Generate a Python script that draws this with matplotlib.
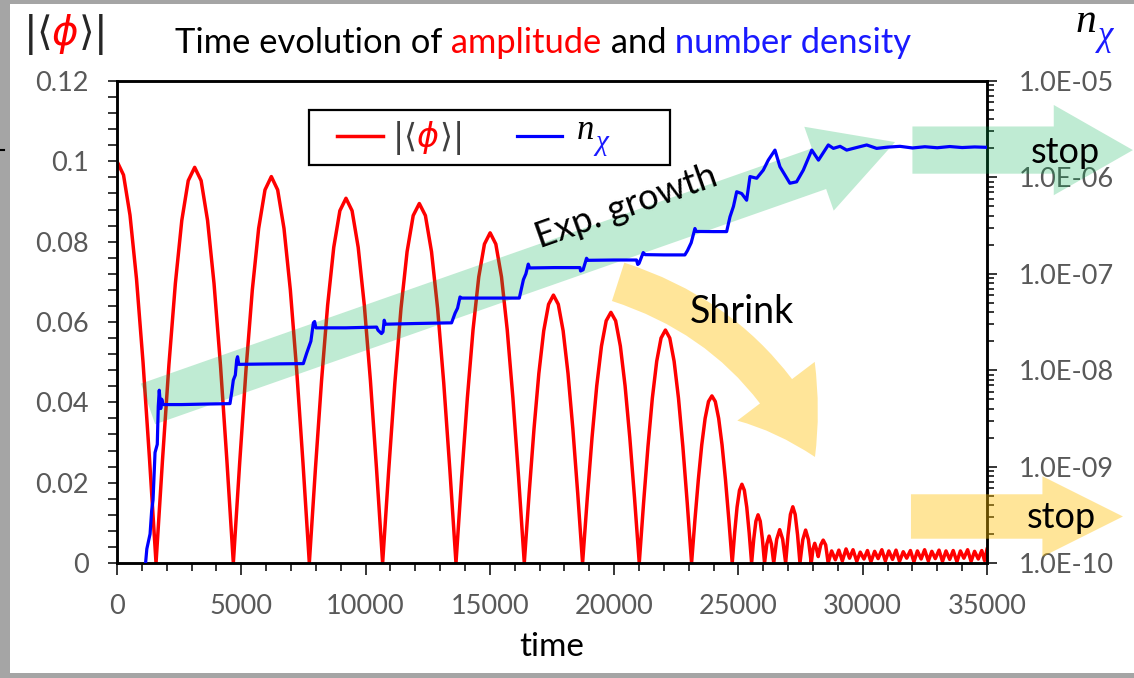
#time evolution of the condensate amplitude |<phi>| and the produced number density n_chi
#left axis: amplitude (linear), right axis: number density (log)

import numpy as np
import matplotlib.pyplot as plt
from matplotlib.patches import FancyArrowPatch, Rectangle
from matplotlib.lines import Line2D
from matplotlib.ticker import MultipleLocator, LogLocator, NullFormatter, FuncFormatter

W, H = 1134, 678
plt.rcParams['font.family'] = ['Lato', 'DejaVu Sans']

t_amp = [0, 262, 523, 785, 1047, 1308, 1570,
         1829, 2088, 2348, 2607, 2866, 3125, 3384, 3643, 3903, 4162, 4421, 4680,
         4935, 5190, 5444, 5699, 5954, 6209, 6463, 6718, 6973, 7227, 7482, 7737,
         7983, 8229, 8474, 8720, 8966, 9212, 9457, 9703, 9949, 10195, 10440, 10686,
         10932, 11178, 11424, 11670, 11916, 12162, 12407, 12653, 12899, 13145, 13391, 13637,
         13866, 14095, 14324, 14553, 14782, 15011, 15240, 15469, 15698, 15927, 16156, 16385,
         16580, 16776, 16971, 17167, 17362, 17558, 17753, 17948, 18144, 18339, 18535, 18730,
         18920, 19110, 19300, 19490, 19680, 19870, 20060, 20250, 20440, 20630, 20820, 21010,
         21185, 21361, 21536, 21712, 21887, 22063, 22238, 22413, 22589, 22764, 22940, 23115,
         23251, 23388, 23524, 23660, 23796, 23933, 24069, 24205, 24341, 24478, 24614, 24750,
         24848, 24945, 25043, 25140, 25238, 25335, 25433, 25530,
         25617, 25703, 25790, 25877, 25963, 26050,
         26142, 26235, 26328, 26420,
         26540, 26660, 26780, 26900,
         26996, 27092, 27188, 27283, 27379, 27475,
         27589, 27703, 27816, 27930,
         28000, 28070, 28140, 28210,
         28310, 28410, 28510, 28610,
         28750, 28900, 29040, 29180, 29330, 29470, 29610, 29760, 29900, 30050,
         30190, 30330, 30480, 30620, 30770, 30910, 31050, 31200, 31340, 31480,
         31630, 31770, 31920, 32060, 32200, 32350, 32490, 32640, 32780, 32920,
         33070, 33210, 33350, 33500, 33640, 33790, 33930, 34070, 34220, 34360,
         34500, 34650, 34790, 34900, 35000]
amp = [0.1, 0.0966, 0.0866, 0.0707, 0.0500, 0.0259, 0.0,
       0.0255, 0.0493, 0.0696, 0.0853, 0.0952, 0.0985, 0.0952, 0.0853, 0.0696, 0.0493, 0.0255, 0.0,
       0.0249, 0.0481, 0.0680, 0.0833, 0.0929, 0.0962, 0.0929, 0.0833, 0.0680, 0.0481, 0.0249, 0.0,
       0.0235, 0.0454, 0.0642, 0.0786, 0.0877, 0.0908, 0.0877, 0.0786, 0.0642, 0.0454, 0.0235, 0.0,
       0.0232, 0.0448, 0.0633, 0.0775, 0.0865, 0.0895, 0.0865, 0.0775, 0.0633, 0.0448, 0.0232, 0.0,
       0.0213, 0.0411, 0.0581, 0.0712, 0.0794, 0.0822, 0.0794, 0.0712, 0.0581, 0.0411, 0.0213, 0.0,
       0.0173, 0.0334, 0.0472, 0.0578, 0.0644, 0.0667, 0.0644, 0.0578, 0.0472, 0.0334, 0.0173, 0.0,
       0.0162, 0.0312, 0.0441, 0.0540, 0.0603, 0.0624, 0.0603, 0.0540, 0.0441, 0.0312, 0.0162, 0.0,
       0.0150, 0.0290, 0.0410, 0.0502, 0.0560, 0.0580, 0.0560, 0.0502, 0.0410, 0.0290, 0.0150, 0.0,
       0.0108, 0.0208, 0.0294, 0.0360, 0.0402, 0.0416, 0.0402, 0.0360, 0.0294, 0.0208, 0.0108, 0.0,
       0.0075, 0.0139, 0.0181, 0.0196, 0.0181, 0.0139, 0.0075, 0.0,
       0.0060, 0.0104, 0.0120, 0.0104, 0.0060, 0.0,
       0.0047, 0.0067, 0.0047, 0.0,
       0.0059, 0.0083, 0.0059, 0.0,
       0.0070, 0.0121, 0.0140, 0.0121, 0.0070, 0.0,
       0.0058, 0.0082, 0.0058, 0.0,
       0.0035, 0.0049, 0.0035, 0.0016,
       0.0045, 0.0057, 0.0045, 0.0,
       0.0030, 0.0008, 0.0032, 0.0005, 0.0035, 0.0012, 0.0033, 0.0004, 0.0027, 0.0010,
       0.0031, 0.0003, 0.0029, 0.0011, 0.0033, 0.0005, 0.0030, 0.0009, 0.0032, 0.0004,
       0.0028, 0.0012, 0.0031, 0.0003, 0.0030, 0.0010, 0.0033, 0.0005, 0.0029, 0.0011,
       0.0032, 0.0004, 0.0030, 0.0009, 0.0031, 0.0003, 0.0030, 0.0012, 0.0033, 0.0004,
       0.0029, 0.0010, 0.0031, 0.0006, 0.0034]

#number density n_chi (time, value)
t_n = [1150, 1200, 1330, 1395, 1450, 1490, 1530, 1620, 1660, 1700, 1760, 1800, 1850, 2600, 3500, 4545,
       4610, 4680, 4760, 4815, 4850, 4900, 6000, 7495,
       7630, 7800, 7900, 7950, 8000, 9200, 10445,
       10500, 10640, 10700, 10750, 10800, 12000, 13460,
       13600, 13700, 13800, 13850, 15000, 16185,
       16350, 16450, 16545, 16600, 17600, 18625,
       18650, 18750, 18890, 18950, 20000, 20900,
       20950, 21000, 21170, 21250, 22000, 22845,
       22950, 23100, 23250, 23300, 24000, 24525,
       24660, 24800, 24930, 25130, 25330, 25465, 25735, 26000, 26200, 26470,
       26670, 27070, 27340, 27610, 27950, 28220, 28615, 28820, 29090, 29355, 29620, 30160, 30560,
       31000, 31500, 32000, 32500, 33000, 33500, 34000, 34500, 35000]
n_chi = [1.0e-10, 1.4e-10, 2.0e-10, 3.5e-10, 4.5e-10, 7.9e-10, 1.4e-9, 1.7e-9, 4.2e-9, 6.2e-9, 4.0e-9, 5.0e-9, 4.4e-9, 4.4e-9, 4.45e-9, 4.5e-9,
         5.8e-9, 7.9e-9, 8.9e-9, 1.28e-8, 1.38e-8, 1.15e-8, 1.16e-8, 1.17e-8,
         1.5e-8, 2.0e-8, 3.1e-8, 3.2e-8, 2.75e-8, 2.75e-8, 2.8e-8,
         2.6e-8, 2.4e-8, 2.5e-8, 3.3e-8, 3.0e-8, 3.05e-8, 3.1e-8,
         3.9e-8, 4.4e-8, 5.75e-8, 5.6e-8, 5.6e-8, 5.6e-8,
         8.7e-8, 1.0e-7, 1.26e-7, 1.15e-7, 1.16e-7, 1.16e-7,
         1.07e-7, 1.1e-7, 1.45e-7, 1.38e-7, 1.39e-7, 1.39e-7,
         1.25e-7, 1.28e-7, 1.66e-7, 1.58e-7, 1.57e-7, 1.57e-7,
         1.74e-7, 2.1e-7, 2.95e-7, 2.75e-7, 2.74e-7, 2.74e-7,
         3.9e-7, 5.0e-7, 7.1e-7, 6.8e-7, 5.8e-7, 1.02e-6, 9.8e-7, 1.19e-6, 1.51e-6, 1.92e-6,
         1.29e-6, 8.7e-7, 9.0e-7, 1.19e-6, 1.92e-6, 1.51e-6, 2.17e-6, 2.0e-6, 2.1e-6, 1.92e-6, 2.0e-6, 2.17e-6, 2.0e-6,
         2.06e-6, 2.1e-6, 2.02e-6, 2.08e-6, 2.03e-6, 2.09e-6, 2.04e-6, 2.07e-6, 2.05e-6]

x_ticks = [0, 5000, 10000, 15000, 20000, 25000, 30000, 35000]
amp_ticks = [0, 0.02, 0.04, 0.06, 0.08, 0.1, 0.12]
n_ticks = [1e-10, 1e-9, 1e-8, 1e-7, 1e-6, 1e-5]

GRAY = '#595959'
GREEN = '#00b050'
YELLOW = '#ffc000'

fig = plt.figure(figsize=(W / 100, H / 100), dpi=100)
ax = fig.add_axes([117 / W, 1 - 563 / H, 870 / W, 482 / H])
ax2 = ax.twinx()

ax.plot(t_amp, amp, color='#ff0000', lw=2.5, zorder=2)
ax2.plot(t_n, n_chi, color='#0000ff', lw=2.3, zorder=2.8)

ax.set_xlim(0, 35000)
ax.set_ylim(0, 0.12)
ax2.set_yscale('log')
ax2.set_ylim(1e-10, 1e-5)

ax.set_xticks(x_ticks)
ax.xaxis.set_minor_locator(MultipleLocator(1000))
ax.set_yticks(amp_ticks)
ax.yaxis.set_minor_locator(MultipleLocator(0.004))
ax.yaxis.set_major_formatter(FuncFormatter(lambda v, p: f'{v:g}'))
ax2.set_yticks(n_ticks)
ax2.yaxis.set_minor_locator(LogLocator(base=10, subs=np.arange(2, 10)))
ax2.yaxis.set_minor_formatter(NullFormatter())
ax2.yaxis.set_major_formatter(FuncFormatter(lambda v, p: f'{v:.1E}'))

ax.tick_params(axis='x', which='major', length=8.5, width=1.1, pad=14, labelsize=19.5, labelcolor=GRAY)
ax.tick_params(axis='x', which='minor', length=5.5, width=1.1)
ax.tick_params(axis='y', which='both', length=6.5, width=1.1, pad=14, labelsize=19.5, labelcolor=GRAY)
ax.tick_params(top=False, right=False, which='both')
ax2.tick_params(axis='y', which='major', length=7, width=1.1, pad=16, labelsize=19.5, labelcolor=GRAY)
ax2.tick_params(axis='y', which='minor', length=5, width=1.1)
for a in (ax, ax2):
    for s in a.spines.values():
        s.set_linewidth(1.8)
        s.set_color('black')

ax.set_xlabel('time', fontsize=24, color='black', labelpad=9)

#arrows are drawn in the amplitude coordinates but sit above both curves' axes
def fat_arrow(p0, p1, color, alpha, tail, head_w, head_l, rad=0.0):
    arr = FancyArrowPatch(p0, p1, transform=ax.transData,
                          arrowstyle=f'simple,head_length={head_l},head_width={head_w},tail_width={tail}',
                          connectionstyle=f'arc3,rad={rad}', mutation_scale=1,
                          shrinkA=0, shrinkB=0, color=color, alpha=alpha, lw=0,
                          zorder=2.6, clip_on=False)
    ax2.add_artist(arr)

fat_arrow((1250, 0.0396), (31300, 0.1048), GREEN, 0.25, 31, 64, 58)
fat_arrow((32000, 0.1028), (40870, 0.1028), GREEN, 0.25, 34, 65, 57)
fat_arrow((31940, 0.01158), (40470, 0.01158), YELLOW, 0.4, 32, 58, 58)
fat_arrow((20160, 0.070), (28080, 0.0264), YELLOW, 0.4, 29, 70, 55, rad=-0.22)

def note(t, v, s, **kw):
    ax2.text(t, v, s, transform=ax.transData, ha='center', va='center', color='black',
             zorder=3, clip_on=False, **kw)

note(20477, 0.0886, 'Exp. growth', fontsize=26, rotation=19.5, rotation_mode='anchor')
note(25130, 0.0625, 'Shrink', fontsize=27)
note(38140, 0.1023, 'stop', fontsize=26)
note(38000, 0.01145, 'stop', fontsize=26)

#text made of differently coloured pieces, placed in figure pixels
renderer = fig.canvas.get_renderer()
def rich_text(x, y, parts, **kw):
    for s, c, extra in parts:
        t = fig.text(x / W, 1 - y / H, s, color=c, ha='left', va='baseline', zorder=6, **kw, **extra)
        x += t.get_window_extent(renderer).width
    return x

SERIF_IT = {'family': 'Liberation Serif', 'style': 'italic'}

rich_text(175, 53, [('Time evolution of', 'black', {}), (' amplitude', '#ff0000', {}),
                    (' and', 'black', {}), (' number density', '#1a1aff', {})], fontsize=24.8)

rich_text(23, 45, [(r'$|\langle$', '#262626', {}), (r'$\phi$', '#ff0000', {}),
                   (r'$\rangle|$', '#262626', {})], fontsize=29)
x_n = rich_text(1076, 32, [('n', 'black', SERIF_IT)], fontsize=30)
rich_text(x_n + 1, 45, [('χ', '#1a1aff', SERIF_IT)], fontsize=25)

#legend box
fig.add_artist(Rectangle((309 / W, 1 - 165 / H), 361 / W, 55 / H, transform=fig.transFigure,
                         facecolor='white', edgecolor='black', lw=1.6, zorder=5))
fig.add_artist(Line2D([337 / W, 383 / W], [1 - 136 / H] * 2, color='#ff0000', lw=2.5, zorder=6))
fig.add_artist(Line2D([517 / W, 562 / W], [1 - 136 / H] * 2, color='#0000ff', lw=2.3, zorder=6))
rich_text(392, 147, [(r'$|\langle$', '#404040', {}), (r'$\phi$', '#ff0000', {}),
                     (r'$\rangle|$', '#404040', {})], fontsize=24)
x_n = rich_text(577, 139, [('n', 'black', SERIF_IT)], fontsize=25)
rich_text(x_n + 1, 150, [('χ', '#1a1aff', SERIF_IT)], fontsize=21)

#grey frame on the left, top and bottom, and the small dash on the left edge
for rect in [(0, 0, 10, H), (0, 0, W, 4), (0, H - 5, W, 5)]:
    x0, y0, w, h = rect
    fig.add_artist(Rectangle((x0 / W, 1 - (y0 + h) / H), w / W, h / H, transform=fig.transFigure,
                             facecolor='#a5a5a5', lw=0, zorder=7))
fig.add_artist(Line2D([0, 4 / W], [1 - 150 / H] * 2, color='black', lw=1.5, zorder=8))

fig.savefig('out.png', dpi=100)
